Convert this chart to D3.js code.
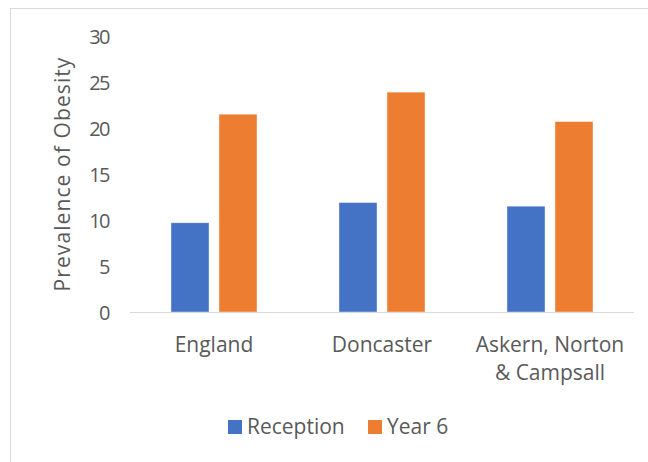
<!DOCTYPE html>
<html>
<head>
<meta charset="utf-8">
<script src="https://cdn.jsdelivr.net/npm/d3@7"></script>
<style>
  html, body { margin: 0; padding: 0; background: #fff; }
  svg text { font-family: "Open Sans", sans-serif; fill: #595959; }
</style>
</head>
<body>
<svg id="chart" width="648" height="462"></svg>
<script>
const categories = [["England"], ["Doncaster"], ["Askern, Norton", "& Campsall"]];
const categoryKeys = ["England", "Doncaster", "Askern, Norton & Campsall"];
const seriesNames = ["Reception", "Year 6"];
const reception = [9.7, 11.9, 11.5];
const year6 = [21.5, 23.9, 20.7];
const yTicks = [0, 5, 10, 15, 20, 25, 30];
const colors = ["#4472c4", "#ed7d31"];

const svg = d3.select("#chart");
// chart area border (only top & left visible in frame)
svg.append("rect").attr("x", 10.5).attr("y", 8.5).attr("width", 700).attr("height", 500)
  .attr("fill", "#fff").attr("stroke", "#d9d9d9").attr("stroke-width", 1);

const plot = { left: 130, right: 634, top: 36, bottom: 312 };
const x = d3.scaleBand().domain(categoryKeys).range([plot.left, plot.right]).paddingInner(0).paddingOuter(0);
const x1 = d3.scaleBand().domain(seriesNames).range([0, x.bandwidth()]).paddingInner(0.208).paddingOuter(0.854);
const y = d3.scaleLinear().domain([0, 30]).range([plot.bottom, plot.top]);

const data = categoryKeys.map((c, i) => ({ c, vals: [reception[i], year6[i]] }));

const g = svg.append("g");
g.selectAll("g.cat").data(data).join("g").attr("class", "cat")
  .attr("transform", d => `translate(${x(d.c)},0)`)
  .selectAll("rect").data(d => d.vals.map((v, j) => ({ v, s: seriesNames[j], j })))
  .join("rect")
  .attr("x", d => x1(d.s)).attr("width", x1.bandwidth())
  .attr("y", d => y(d.v)).attr("height", d => y(0) - y(d.v))
  .attr("fill", d => colors[d.j])
  .attr("stroke", "#fff").attr("stroke-opacity", 0.5).attr("stroke-width", 0.8);

// baseline
svg.append("line").attr("x1", plot.left).attr("x2", plot.right)
  .attr("y1", y(0) + 0.5).attr("y2", y(0) + 0.5).attr("stroke", "#d9d9d9").attr("stroke-width", 1.2);

// y axis labels
const yAxis = d3.axisLeft(y).tickValues(yTicks).tickSize(0).tickPadding(0);
const ya = svg.append("g").attr("transform", `translate(${109},0)`).call(yAxis);
ya.select(".domain").remove();
ya.selectAll("text").attr("font-size", 20).attr("font-family", "Open Sans, sans-serif")
  .attr("letter-spacing", -1.5)
  .attr("fill", "#595959").attr("dy", "0.35em");

// y title
svg.append("text").attr("transform", `translate(63,174) rotate(-90)`)
  .attr("text-anchor", "middle").attr("dy", "0.35em").attr("font-size", 21)
  .attr("letter-spacing", 1.1)
  .text("Prevalence of Obesity");

// category labels
categoryKeys.forEach((c, i) => {
  const t = svg.append("text").attr("text-anchor", "middle").attr("font-size", 21)
    .attr("x", x(c) + x.bandwidth() / 2).attr("y", 345);
  categories[i].forEach((line, k) => {
    t.append("tspan").attr("x", x(c) + x.bandwidth() / 2).attr("dy", k === 0 ? "0.35em" : 28).text(line);
  });
});

// legend
const legend = svg.append("g");
const legendItems = [{ name: seriesNames[0], x: 228 }, { name: seriesNames[1], x: 368 }];
legendItems.forEach((it, i) => {
  legend.append("rect").attr("x", it.x).attr("y", 420).attr("width", 14).attr("height", 14).attr("fill", colors[i]);
  legend.append("text").attr("x", it.x + 19).attr("y", 427).attr("dy", "0.35em").attr("font-size", 21).text(it.name);
});
</script>
</body>
</html>
